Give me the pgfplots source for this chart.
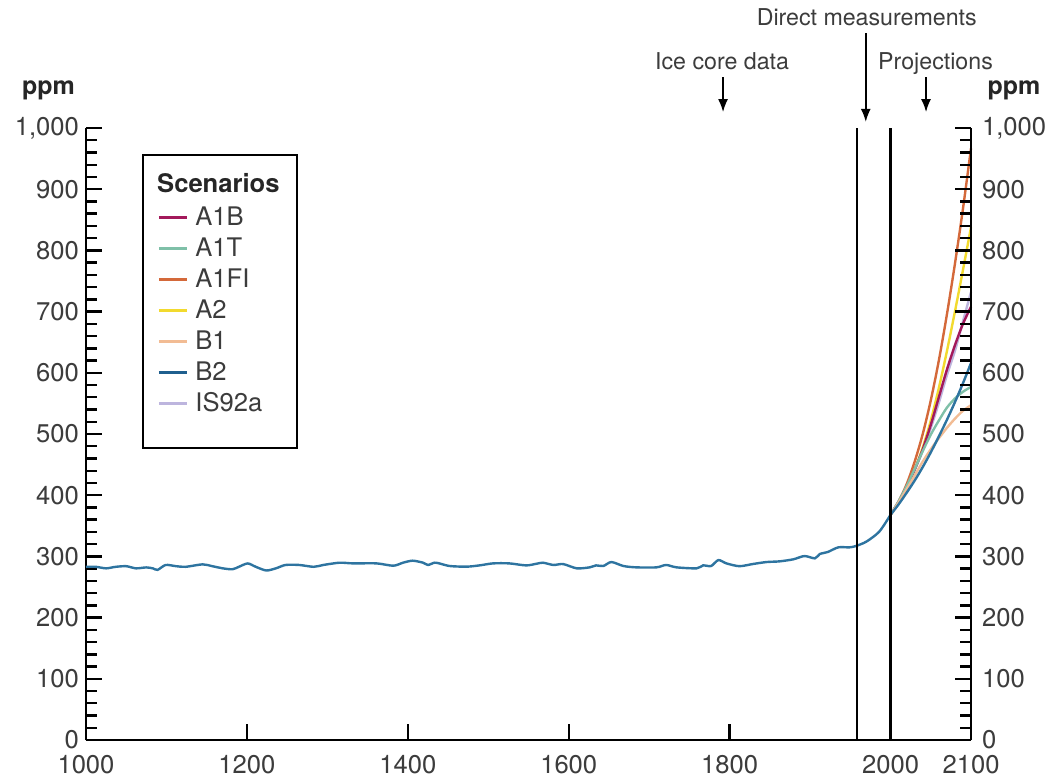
\documentclass[border=0pt]{standalone}
\usepackage{fontspec}
\setmainfont{TeX Gyre Heros}
\usepackage{pgfplots}
\usepackage{pgfplotstable}
\pgfplotsset{compat=1.18}
\usetikzlibrary{arrows.meta}
\definecolor{txt}{HTML}{3C3C3C}
\definecolor{cA1B}{HTML}{A3195B}
\definecolor{cA1T}{HTML}{7FC0A8}
\definecolor{cA1FI}{HTML}{D4693A}
\definecolor{cA2}{HTML}{F2DA2E}
\definecolor{cB1}{HTML}{F2BC94}
\definecolor{cB2}{HTML}{1F5F8E}
\definecolor{cIS}{HTML}{BDB5DE}
\definecolor{histc}{HTML}{2E74A0}

\pgfplotstableread{
year ppm
1000 283
1012 283
1025 280.5
1037 283
1050 284
1062 280.5
1075 282
1083 280.5
1089 278
1099 286
1112 284
1124 283
1145 287
1157 284
1170 280.5
1182 279
1190 283
1201 288.5
1211 283
1224 277
1236 280.5
1248 286
1265 286
1283 283
1295 286
1315 289.7
1332 288.6
1361 288.6
1382 284.8
1394 289.7
1406 293
1419 289.7
1425 286
1433 289.7
1439 288.6
1452 284.3
1473 283.2
1489 285.3
1506 288.6
1526 288.6
1547 285.3
1560 288
1568 289.7
1581 286
1593 287.5
1610 280.5
1626 282.1
1634 285.3
1643 284.3
1653 290.8
1668 284.3
1684 282.1
1709 282.1
1721 286
1734 282.1
1759 280.5
1767 285.3
1777 284.3
1786 294
1796 288.6
1812 284
1829 287.6
1846 290.8
1862 291.9
1879 295.2
1893 300.6
1906 296.8
1912 303.9
1922 307.2
1935 314.8
1949 314.8
1957 317
1970 324.2
1986 340.5
2000 368
}\histdata

\pgfplotstableread{
year A1B A1T A1FI A2 B1 B2 IS92a
2000 368 368 368 368 368 368 368
2010 389 390 390 388 388 385 389
2020 414 415 418 412 410 404 413
2030 442 443 455 442 432 424 441
2040 475 472 500 478 455 446 473
2050 515 499 555 522 475 470 510
2060 560 522 620 575 493 496 551
2070 605 543 695 635 510 523 596
2080 645 558 778 700 525 552 636
2090 680 569 868 768 538 583 684
2100 708 577 967 838 547 616 732
}\proj

\begin{document}
\begin{tikzpicture}
\useasboundingbox (-43pt,-18pt) rectangle (480.5pt,370pt);
\pgfplotsset{common/.style={
  width=442.5pt, height=306pt, scale only axis,
  xmin=1000, xmax=2100, ymin=0, ymax=1000,
  axis line style={-, line width=1.2pt, black},
  tick style={line width=1.2pt, black},
  tick align=inside,
  major tick length=8pt, minor tick length=5.5pt,
  ticklabel style={font=\fontsize{12.8}{15}\selectfont, text=txt},
  /pgf/number format/assume math mode=true,
  scaled ticks=false,
  ytick={0,100,200,300,400,500,600,700,800,900,1000},
  minor y tick num=4,
  yticklabel style={/pgf/number format/1000 sep={,}},
}}
\begin{axis}[common, at={(0pt,0pt)}, anchor=south west,
  axis x line*=bottom, axis y line*=left,
  xtick={1000,1200,1400,1600,1800,2000,2100},
  minor x tick num=0,
  xticklabel style={/pgf/number format/1000 sep={}, yshift=-4pt},
  clip=false,
  legend style={at={(axis cs:1088,880)}, anchor=north west, draw=none, fill=none,
    inner sep=0pt, row sep=0pt, column sep=3.5pt,
    font=\fontsize{12.8}{15}\selectfont, text=txt,
    nodes={inner sep=0pt, minimum height=15.5pt}, cells={anchor=west}},
  legend image code/.code={\draw[#1] (0pt,0pt) -- (14pt,0pt);},
]
\addplot[cA1FI, line width=1.2pt, smooth, forget plot] table[x=year, y=A1FI] {\proj};
\addplot[cA2, line width=1.2pt, smooth, forget plot] table[x=year, y=A2] {\proj};
\addplot[cIS, line width=1.2pt, smooth, forget plot] table[x=year, y=IS92a] {\proj};
\addplot[cA1B, line width=1.2pt, smooth, forget plot] table[x=year, y=A1B] {\proj};
\addplot[cA1T, line width=1.2pt, smooth, forget plot] table[x=year, y=A1T] {\proj};
\addplot[cB1, line width=1.2pt, smooth, forget plot] table[x=year, y=B1] {\proj};
\addplot[color=histc, line width=1.2pt, smooth, forget plot] table[x=year, y=B2] {\proj};
\addplot[color=histc, line width=1.2pt, smooth, tension=0.45, forget plot] table[x=year, y=ppm] {\histdata};

\addlegendimage{cA1B, line width=1.6pt}
\addlegendimage{cA1T, line width=1.6pt}
\addlegendimage{cA1FI, line width=1.6pt}
\addlegendimage{cA2, line width=1.6pt}
\addlegendimage{cB1, line width=1.6pt}
\addlegendimage{cB2, line width=1.6pt}
\addlegendimage{cIS, line width=1.6pt}
\legend{A1B, A1T, A1FI, A2, B1, B2, IS92a}

\draw[line width=1pt] (axis cs:1071,477) rectangle (axis cs:1262,956);
\node[anchor=west, font=\bfseries\fontsize{12.8}{15}\selectfont, text=black!85, inner sep=0pt] at (axis cs:1088,910) {Scenarios};

\draw[line width=1.25pt] (axis cs:1958,0) -- (axis cs:1958,1000);
\draw[line width=1.25pt] (axis cs:2000,0) -- (axis cs:2000,1000);

\draw[line width=0.8pt, -{Latex[length=6.5pt,width=5pt]}] (axis cs:1791.8,1083) -- (axis cs:1791.8,1026);
\draw[line width=0.8pt, -{Latex[length=6.5pt,width=5pt]}] (axis cs:1969.2,1155) -- (axis cs:1969.2,1010);
\draw[line width=0.8pt, -{Latex[length=6.5pt,width=5pt]}] (axis cs:2044.1,1083) -- (axis cs:2044.1,1026);
\node[anchor=base, font=\fontsize{11.6}{13}\selectfont, text=txt, inner sep=0pt] at (axis cs:1790.6,1095) {Ice core data};
\node[anchor=base, font=\fontsize{11.6}{13}\selectfont, text=txt, inner sep=0pt] at (axis cs:1970.4,1167) {Direct measurements};
\node[anchor=base, font=\fontsize{11.6}{13}\selectfont, text=txt, inner sep=0pt] at (axis cs:2055.9,1095) {Projections};
\node[anchor=base, font=\bfseries\fontsize{12.5}{15}\selectfont, text=black!85, inner sep=0pt] at (axis cs:953.4,1055) {ppm};
\node[anchor=base, font=\bfseries\fontsize{12.5}{15}\selectfont, text=black!85, inner sep=0pt] at (axis cs:2153.5,1055) {ppm};
\end{axis}
\begin{axis}[common, at={(0pt,0pt)}, anchor=south west,
  axis y line*=right, hide x axis,
  yticklabel style={xshift=2pt},
]
\end{axis}
\end{tikzpicture}
\end{document}
